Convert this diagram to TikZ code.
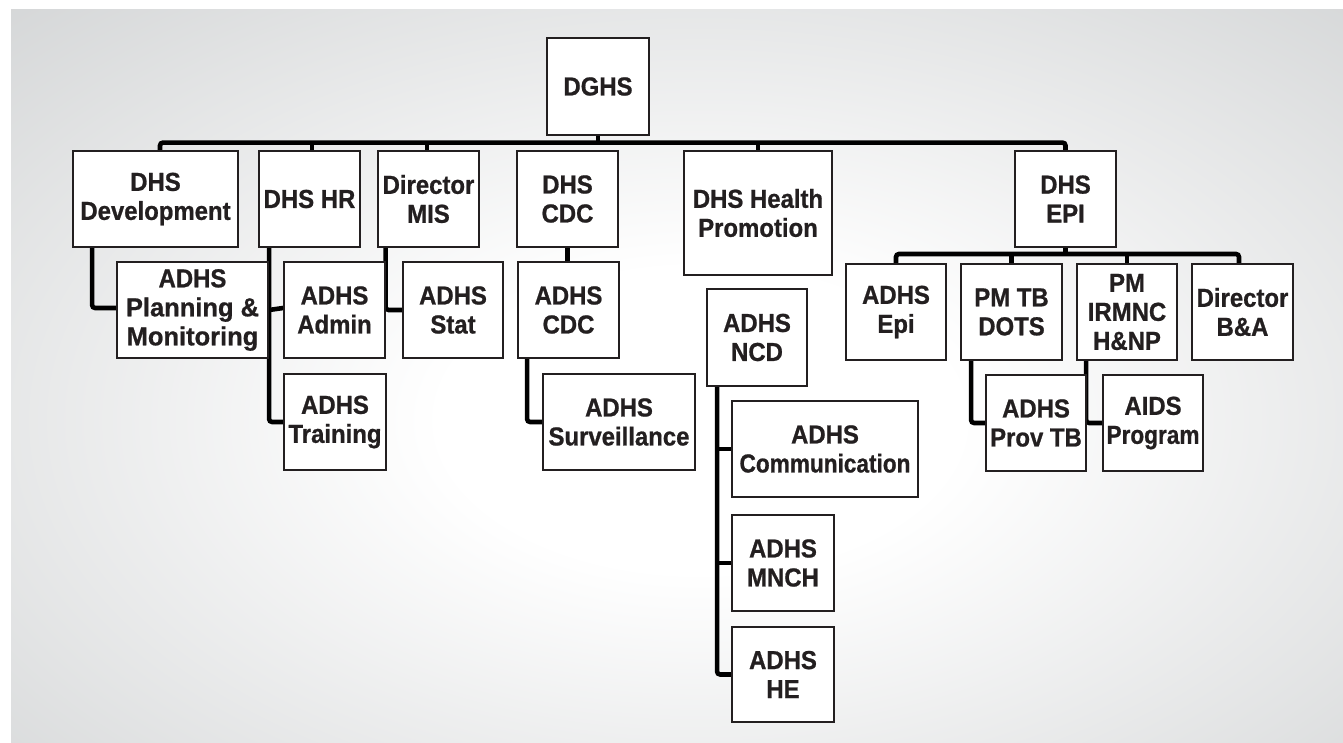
\documentclass[tikz,border=0pt]{standalone}
\usepackage{fontspec}
\setmainfont{Liberation Sans}[FakeStretch=0.92, BoldFeatures={FakeBold=0.8}]
\newfontfamily\narrowface{Liberation Sans}[FakeStretch=0.87, BoldFeatures={FakeBold=0.8}]
\newfontfamily\wideface{Liberation Sans}[FakeStretch=0.98, BoldFeatures={FakeBold=0.8}]
\usetikzlibrary{calc}
\definecolor{ink}{HTML}{231F20}
\definecolor{bggray}{RGB}{209,211,212}
\pgfdeclarelayer{backdrop}
\pgfdeclarelayer{links}
\pgfsetlayers{backdrop,links,main}
\pgfdeclareradialshading{glow}{\pgfpoint{0bp}{0bp}}{color(0bp)=(white); color(9bp)=(white); color(37bp)=(bggray); color(50bp)=(bggray)}
\tikzset{
  orgbox/.style={draw=ink, line width=1.8pt, fill=white, inner sep=0pt,
    align=center, text=ink, font=\fontsize{26}{29}\selectfont\bfseries},
  link/.style={draw=black, line width=4.6pt},
  elbow/.style={link, rounded corners=3pt}
}
\newcommand{\orgnode}[6]{% name, cx, cy, width, height, text
  \node[orgbox, minimum width=#4pt, minimum height=#5pt] (#1) at (#2,#3) {#6};}
\begin{document}
\begin{tikzpicture}[x=1pt, y=-1pt]
\useasboundingbox (0,0) rectangle (1343,743);
\begin{pgfonlayer}{backdrop}
  \begin{scope}
    \clip (11,10) rectangle (1343,743);
    \shade[shading=glow] (-20,0) rectangle (1420,840);
  \end{scope}
\end{pgfonlayer}

% top level
\orgnode{dghs}{598}{86.5}{102}{97}{DGHS}
% directors
\orgnode{dev}{155.5}{199}{165}{96}{DHS\\Development}
\orgnode{hr}{309.5}{199}{101}{96}{DHS HR}
\orgnode{mis}{428.5}{199}{101}{96}{Director\\MIS}
\orgnode{cdc}{567.5}{199}{101}{96}{DHS\\CDC}
\orgnode{hp}{758}{213}{148}{124}{DHS Health\\Promotion}
\orgnode{epi}{1065.5}{199}{101}{96}{DHS\\EPI}
% under development, HR, MIS
\orgnode{plan}{192.5}{310}{151}{96}{ADHS\\{\wideface\bfseries Planning \&}\\{\wideface\bfseries Monitoring}}
\orgnode{admin}{334.5}{310}{101}{96}{ADHS\\Admin}
\orgnode{train}{335}{422}{102}{96}{ADHS\\Training}
\orgnode{stat}{453}{310}{100}{96}{ADHS\\Stat}
% under CDC
\orgnode{acdc}{568.5}{310}{101}{96}{ADHS\\CDC}
\orgnode{surv}{619}{422}{152}{96}{ADHS\\Surveillance}
% NCD group
\orgnode{ncd}{757}{337.5}{100}{97}{ADHS\\NCD}
\orgnode{comm}{825}{449}{186}{96}{ADHS\\{\narrowface\bfseries Communication}}
\orgnode{mnch}{783}{563}{102}{96}{ADHS\\MNCH}
\orgnode{he}{783}{674.5}{102}{95}{ADHS\\HE}
% under EPI
\orgnode{aepi}{896}{312}{100}{96}{ADHS\\Epi}
\orgnode{tb}{1011.5}{312}{101}{96}{PM TB\\DOTS}
\orgnode{irm}{1127}{312}{100}{96}{PM\\IRMNC\\H\&NP}
\orgnode{ba}{1242.5}{312}{101}{96}{Director\\B\&A}
\orgnode{provtb}{1036}{423}{100}{96}{ADHS\\Prov TB}
\orgnode{aids}{1153}{423}{100}{96}{AIDS\\{\narrowface\bfseries Program}}

\coordinate (bus) at (0,143.5);
\coordinate (sub) at (0,254);

\begin{pgfonlayer}{links}
  % main bus
  \draw[elbow] ([xshift=4.5pt]dev.north) -- ++(0,-7.5) -| (epi.north);
  \draw[link] (dghs.south) -- (dghs.south |- bus);
  \draw[link] ([xshift=2.5pt]hr.north) -- ([xshift=2.5pt]hr.north |- bus);
  \draw[link] ([xshift=-1.5pt]mis.north) -- ([xshift=-1.5pt]mis.north |- bus);
  \draw[link] (hp.north) -- (hp.north |- bus);
  % development
  \draw[elbow] ([xshift=20pt]dev.south west) |- ([yshift=2pt]plan.west);
  % HR
  \draw[elbow] ([xshift=11pt]hr.south west) |- (train.west);
  \draw[link] ([xshift=11pt]hr.south west |- admin.west) -- ([yshift=2pt]admin.west);
  % MIS
  \draw[elbow] ([xshift=8.5pt]mis.south west) |- (stat.west);
  % CDC
  \draw[link] (cdc.south) -- (cdc.south |- acdc.north);
  \draw[elbow] ([xshift=10pt]acdc.south west) |- (surv.west);
  % NCD
  \draw[elbow] ([xshift=11pt]ncd.south west) |- (he.west);
  \draw[link] ([xshift=11pt]ncd.south west |- comm.west) -- (comm.west);
  \draw[link] ([xshift=11pt]ncd.south west |- mnch.west) -- (mnch.west);
  % EPI
  \draw[link] (epi.south) -- (epi.south |- sub);
  \draw[elbow] (aepi.north) -- (aepi.north |- sub) -| ([xshift=-3.5pt]ba.north);
  \draw[link] (tb.north) -- (tb.north |- sub);
  \draw[link] (irm.north) -- (irm.north |- sub);
  \draw[elbow] ([xshift=11pt]tb.south west) |- (provtb.west);
  \draw[elbow] ([xshift=10pt]irm.south west) |- (aids.west);
\end{pgfonlayer}
\end{tikzpicture}
\end{document}
